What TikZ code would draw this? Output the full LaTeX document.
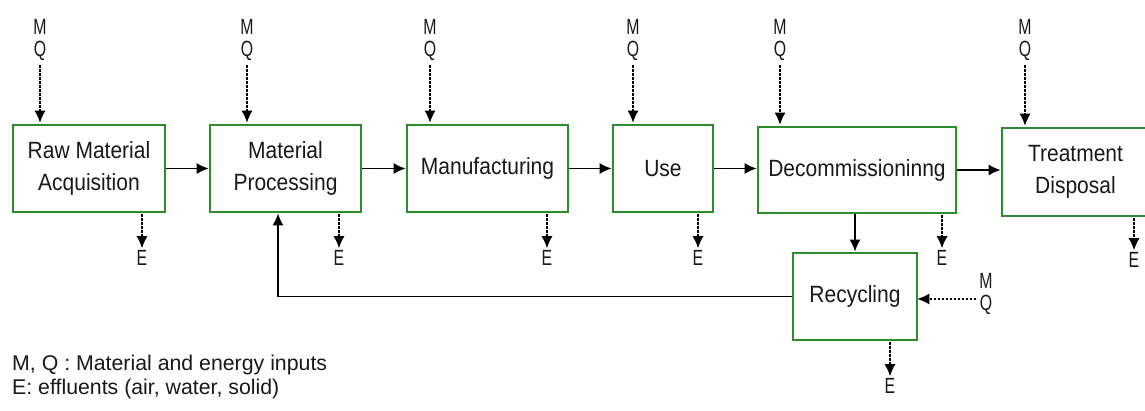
\documentclass[tikz,border=0pt]{standalone}
\usepackage{fontspec}
\setmainfont{Liberation Sans}
\usetikzlibrary{arrows.meta,calc}
\definecolor{boxgreen}{RGB}{46,139,46}
\newcommand{\nrw}[1]{\scalebox{0.72}[1]{#1}}
\newcommand{\tl}[1]{\scalebox{1}[1.12]{#1}}
\begin{document}
\begin{tikzpicture}[x=1pt,y=-1pt,
  proc/.style={draw=boxgreen,line width=2.6pt,minimum height=87pt,inner sep=0pt,align=center,
    font=\fontsize{21}{32}\selectfont,text=black!90},
  lbl/.style={inner sep=0pt,align=center,font=\fontsize{22}{22.5}\selectfont,text=black!90},
  flow/.style={line width=1.8pt,-{Latex[length=12pt,width=11pt]}},
  dflow/.style={line width=1.3pt,dash pattern=on 2.5pt off 1.5pt,-{Latex[length=12pt,width=11pt]}},
  legend/.style={anchor=base west,inner sep=0pt,font=\fontsize{21.3}{24}\selectfont,text=black!90}]
\useasboundingbox (0,0) rectangle (1145,411);
\fill[white] (0,0) rectangle (1145,411);
% process boxes
\node[proc,minimum width=152pt] (raw) at (89,168.5) {\tl{Raw Material}\\\tl{Acquisition}};
\node[proc,minimum width=151pt] (mp) at (285.5,168.5) {\tl{Material}\\\tl{Processing}};
\node[proc,minimum width=161pt] (man) at (487.5,168.5) {\tl{Manufacturing}};
\node[proc,minimum width=100pt] (use) at (663,168.5) {\tl{Use}};
\node[proc,minimum width=198pt,minimum height=86pt] (dec) at (857,170) {\tl{Decommissioninng}};
\node[proc,minimum width=147pt,minimum height=88pt] (tr) at (1075.5,172) {\tl{Treatment}\\\tl{Disposal}};
\node[proc,minimum width=124pt] (rec) at (855,296.5) {\tl{Recycling}};
% M Q inputs
\node[lbl] (mq1) at (40,40) {\nrw{M}\\\nrw{Q}};
\node[lbl] (mq2) at (247,40) {\nrw{M}\\\nrw{Q}};
\node[lbl] (mq3) at (430,40) {\nrw{M}\\\nrw{Q}};
\node[lbl] (mq4) at (633,40) {\nrw{M}\\\nrw{Q}};
\node[lbl] (mq5) at (780,40) {\nrw{M}\\\nrw{Q}};
\node[lbl] (mq6) at (1025,40) {\nrw{M}\\\nrw{Q}};
\node[lbl] (mq7) at (986,294) {\nrw{M}\\\nrw{Q}};
\draw[dflow] ([yshift=-4pt]mq1.south) -- ([yshift=1pt]mq1.south |- raw.north);
\draw[dflow] ([yshift=-4pt]mq2.south) -- ([yshift=1pt]mq2.south |- mp.north);
\draw[dflow] ([yshift=-4pt]mq3.south) -- ([yshift=1pt]mq3.south |- man.north);
\draw[dflow] ([yshift=-4pt]mq4.south) -- ([yshift=1pt]mq4.south |- use.north);
\draw[dflow] ([yshift=-4pt]mq5.south) -- ([yshift=1pt]mq5.south |- dec.north);
\draw[dflow] ([yshift=-4pt]mq6.south) -- ([yshift=1pt]mq6.south |- tr.north);
\coordinate (mq7in) at ([xshift=-3pt,yshift=-5pt]mq7.west);
\draw[dflow] (mq7in) -- ([xshift=-1pt]rec.east |- mq7in);
% E outputs
\node[lbl] (e1) at (142,258) {\nrw{E}};
\node[lbl] (e2) at (339,258) {\nrw{E}};
\node[lbl] (e3) at (547,258) {\nrw{E}};
\node[lbl] (e4) at (698,258) {\nrw{E}};
\node[lbl] (e5) at (942,258) {\nrw{E}};
\node[lbl] (e6) at (1134,260) {\nrw{E}};
\node[lbl] (e7) at (890,386) {\nrw{E}};
\draw[dflow] ([yshift=-1pt]e1.north |- raw.south) -- ([yshift=2pt]e1.north);
\draw[dflow] ([yshift=-1pt]e2.north |- mp.south) -- ([yshift=2pt]e2.north);
\draw[dflow] ([yshift=-1pt]e3.north |- man.south) -- ([yshift=2pt]e3.north);
\draw[dflow] ([yshift=-1pt]e4.north |- use.south) -- ([yshift=2pt]e4.north);
\draw[dflow] ([yshift=-1pt]e5.north |- dec.south) -- ([yshift=2pt]e5.north);
\draw[dflow] ([yshift=-1pt]e6.north |- tr.south) -- ([yshift=2pt]e6.north);
\draw[dflow] ([yshift=-1pt]e7.north |- rec.south) -- ([yshift=2pt]e7.north);
% main flow
\draw[flow] (raw.east) -- (mp.west);
\draw[flow] (mp.east) -- (man.west);
\draw[flow] (man.east) -- (use.west);
\draw[flow] (use.east) -- (use.east -| dec.west);
\draw[flow] (dec.east) -- (dec.east -| tr.west);
\draw[flow] (dec.south -| rec.north) -- (rec.north);
\coordinate (fb) at ([xshift=-7.5pt]mp.south);
\draw[flow] (rec.west) -| (fb);
% legend
\node[legend] (l1) at (12,370) {M, Q : Material and energy inputs};
\node[legend] (l2) at (12,394) {E: effluents (air, water, solid)};
\end{tikzpicture}
\end{document}
